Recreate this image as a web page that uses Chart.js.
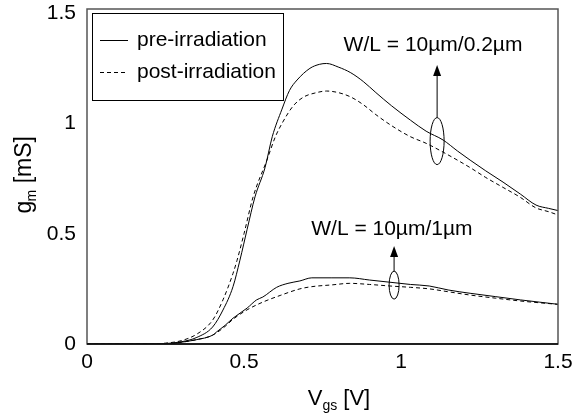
<!DOCTYPE html>
<html><head><meta charset="utf-8">
<style>html,body{margin:0;padding:0;background:#fff}canvas{display:block}</style>
<script src="https://cdn.jsdelivr.net/npm/chart.js@4.4.1/dist/chart.umd.min.js"></script>
</head><body>
<canvas id="c" width="573" height="413"></canvas>
<script>
// ---- data (Vgs [V], gm [mS]) ----
const seriesLabels = ['pre-irradiation', 'post-irradiation'];
const xTicks = [0, 0.5, 1, 1.5];
const yTicks = [0, 0.5, 1, 1.5];

// W/L = 10um/0.2um
const shortPre = [[0,0],[0.2,0],[0.25,0.002],[0.3,0.01],[0.35,0.03],[0.4,0.077],[0.433,0.154],[0.465,0.26],[0.487,0.38],[0.51,0.52],[0.535,0.667],[0.567,0.8],[0.59,0.94],[0.621,1.065],[0.645,1.15],[0.669,1.197],[0.71,1.25],[0.74,1.268],[0.763,1.272],[0.8,1.256],[0.84,1.23],[0.88,1.19],[0.92,1.14],[0.97,1.08],[1.03,1.015],[1.08,0.965],[1.134,0.925],[1.18,0.875],[1.22,0.834],[1.27,0.785],[1.325,0.734],[1.38,0.68],[1.43,0.63],[1.47,0.615],[1.5,0.605]];
const shortPost = [[0,0],[0.2,0],[0.25,0.004],[0.3,0.015],[0.35,0.045],[0.4,0.108],[0.433,0.2],[0.465,0.32],[0.478,0.38],[0.5,0.5],[0.529,0.667],[0.573,0.834],[0.6,0.94],[0.621,1.0],[0.657,1.08],[0.69,1.12],[0.726,1.138],[0.763,1.147],[0.8,1.14],[0.84,1.12],[0.88,1.085],[0.92,1.04],[0.97,0.99],[1.03,0.94],[1.08,0.91],[1.134,0.87],[1.22,0.8],[1.27,0.755],[1.325,0.71],[1.38,0.665],[1.43,0.617],[1.47,0.6],[1.5,0.585]];
// W/L = 10um/1um
const longPre = [[0,0],[0.25,0],[0.3,0.008],[0.35,0.02],[0.4,0.04],[0.413,0.055],[0.44,0.085],[0.465,0.117],[0.51,0.163],[0.54,0.2],[0.56,0.213],[0.604,0.257],[0.64,0.275],[0.678,0.286],[0.716,0.3],[0.78,0.3],[0.837,0.3],[0.9,0.29],[0.965,0.28],[1.03,0.27],[1.09,0.263],[1.15,0.245],[1.22,0.23],[1.3,0.215],[1.38,0.2],[1.44,0.19],[1.5,0.18]];
const longPost = [[0,0],[0.25,0],[0.3,0.008],[0.35,0.02],[0.4,0.04],[0.44,0.08],[0.465,0.112],[0.51,0.155],[0.56,0.19],[0.615,0.22],[0.678,0.25],[0.716,0.26],[0.78,0.268],[0.837,0.275],[0.9,0.27],[0.965,0.263],[1.03,0.257],[1.09,0.25],[1.15,0.237],[1.22,0.222],[1.3,0.208],[1.38,0.195],[1.44,0.187],[1.5,0.18]];

// annotations: label + ellipse centre (data units)
const annoText = ['W/L = 10\u00b5m/0.2\u00b5m', 'W/L = 10\u00b5m/1\u00b5m'];
const annoEllipseAt = [[1.115, 0.92], [0.978, 0.267]];
const annoArrowTip = [1.265, 0.444];
const annoTextAt = [[1.102, 1.355], [0.971, 0.52]];

const FONT = "'Liberation Sans', Arial, Helvetica, sans-serif";
const toXY = a => a.map(p => ({x: p[0], y: p[1]}));

function ds(label, data, dashed) {
  return {label, data: toXY(data), borderColor: '#000', borderWidth: 1,
    borderDash: dashed ? [4, 3] : [], pointRadius: 0, fill: false,
    cubicInterpolationMode: 'monotone'};
}

const overlay = {
  id: 'overlay',
  afterDraw(chart) {
    const {ctx, chartArea: a, scales: {x, y}} = chart;
    ctx.save();
    // frame
    ctx.strokeStyle = '#555'; ctx.lineWidth = 1.5; ctx.setLineDash([]);
    ctx.strokeRect(a.left, a.top, a.right - a.left, a.bottom - a.top);
    ctx.strokeStyle = '#000'; ctx.lineWidth = 1.5;
    ctx.beginPath(); ctx.moveTo(a.left, a.bottom); ctx.lineTo(a.right, a.bottom); ctx.stroke();

    // legend
    const lx = a.left + 5, ly = a.top + 4, lw = 191, lh = 87;
    ctx.fillStyle = '#fff'; ctx.fillRect(lx, ly, lw, lh);
    ctx.strokeStyle = '#000'; ctx.lineWidth = 1;
    ctx.strokeRect(lx + 0.5, ly + 0.5, lw, lh);
    ctx.font = '21px ' + FONT; ctx.fillStyle = '#000';
    ctx.textBaseline = 'middle'; ctx.textAlign = 'left';
    const dsets = chart.data.datasets;
    [0, 1].forEach((i, k) => {
      const yy = ly + 27 + k * 32;
      ctx.setLineDash(dsets[i].borderDash);
      ctx.lineWidth = 1;
      ctx.beginPath(); ctx.moveTo(lx + 8, yy + 0.5); ctx.lineTo(lx + 36, yy + 0.5); ctx.stroke();
      ctx.setLineDash([]);
      ctx.fillText(seriesLabels[k], lx + 45, yy);
    });

    // annotations
    const rx = [7, 5], ry = [23.5, 14];
    annoEllipseAt.forEach((c, i) => {
      const cx = x.getPixelForValue(c[0]), cy = y.getPixelForValue(c[1]);
      ctx.lineWidth = 1; ctx.strokeStyle = '#000';
      ctx.beginPath(); ctx.ellipse(cx, cy, rx[i], ry[i], 0, 0, Math.PI * 2); ctx.stroke();
      const tipY = y.getPixelForValue(annoArrowTip[i]);
      ctx.beginPath(); ctx.moveTo(cx, cy - ry[i]); ctx.lineTo(cx, tipY + 9); ctx.stroke();
      ctx.beginPath(); ctx.moveTo(cx, tipY); ctx.lineTo(cx - 4, tipY + 11); ctx.lineTo(cx + 4, tipY + 11); ctx.closePath(); ctx.fill();
      ctx.font = '21px ' + FONT; ctx.textAlign = 'center'; ctx.textBaseline = 'middle';
      ctx.fillText(annoText[i], x.getPixelForValue(annoTextAt[i][0]), y.getPixelForValue(annoTextAt[i][1]));
    });

    // x title V_gs [V]
    ctx.textBaseline = 'alphabetic'; ctx.textAlign = 'left';
    const big = '22px ' + FONT, small = '14px ' + FONT;
    const parts = (main, sub, rest) => {
      ctx.font = big; const w1 = ctx.measureText(main).width, w3 = ctx.measureText(rest).width;
      ctx.font = small; const w2 = ctx.measureText(sub).width;
      return [w1, w2, w3];
    };
    let [w1, w2, w3] = parts('V', 'gs', ' [V]');
    let sx = 339 - (w1 + w2 + w3) / 2, by = 405;
    ctx.font = big; ctx.fillText('V', sx, by);
    ctx.font = small; ctx.fillText('gs', sx + w1, by + 5);
    ctx.font = big; ctx.fillText(' [V]', sx + w1 + w2, by);

    // y title g_m [mS]
    [w1, w2, w3] = parts('g', 'm', ' [mS]');
    ctx.translate(31, 176); ctx.rotate(-Math.PI / 2);
    sx = -(w1 + w2 + w3) / 2;
    ctx.font = '23px ' + FONT; ctx.fillText('g', sx, 0);
    ctx.font = small; ctx.fillText('m', sx + w1, 5);
    ctx.font = '23px ' + FONT; ctx.fillText(' [mS]', sx + w1 + w2, 0);
    ctx.restore();
  }
};

const noPad = s => { s.paddingTop = 0; s.paddingBottom = 0; s.paddingLeft = 0; s.paddingRight = 0; };

new Chart(document.getElementById('c'), {
  type: 'line',
  data: {datasets: [
    ds(seriesLabels[0], shortPre, false),
    ds(seriesLabels[1], shortPost, true),
    ds(seriesLabels[0], longPre, false),
    ds(seriesLabels[1], longPost, true)
  ]},
  options: {
    responsive: false, animation: false, events: [],
    layout: {padding: {left: 0, top: 9, right: 15, bottom: 0}},
    plugins: {legend: {display: false}, tooltip: {enabled: false}},
    scales: {
      x: {type: 'linear', min: 0, max: 1.5,
        afterBuildTicks: s => { s.ticks = xTicks.map(v => ({value: v})); },
        afterFit: s => { s.height = 69; noPad(s); },
        grid: {display: false, drawTicks: false}, border: {display: false},
        ticks: {color: '#000', font: {family: FONT, size: 21}, padding: 6, maxRotation: 0,
          callback: v => String(v)}},
      y: {type: 'linear', min: 0, max: 1.519,
        afterBuildTicks: s => { s.ticks = yTicks.map(v => ({value: v})); },
        afterFit: s => { s.width = 87; noPad(s); },
        grid: {display: false, drawTicks: false}, border: {display: false},
        ticks: {color: '#000', font: {family: FONT, size: 21}, padding: 11,
          callback: v => String(v)}}
    }
  },
  plugins: [overlay]
});
</script>
</body></html>
